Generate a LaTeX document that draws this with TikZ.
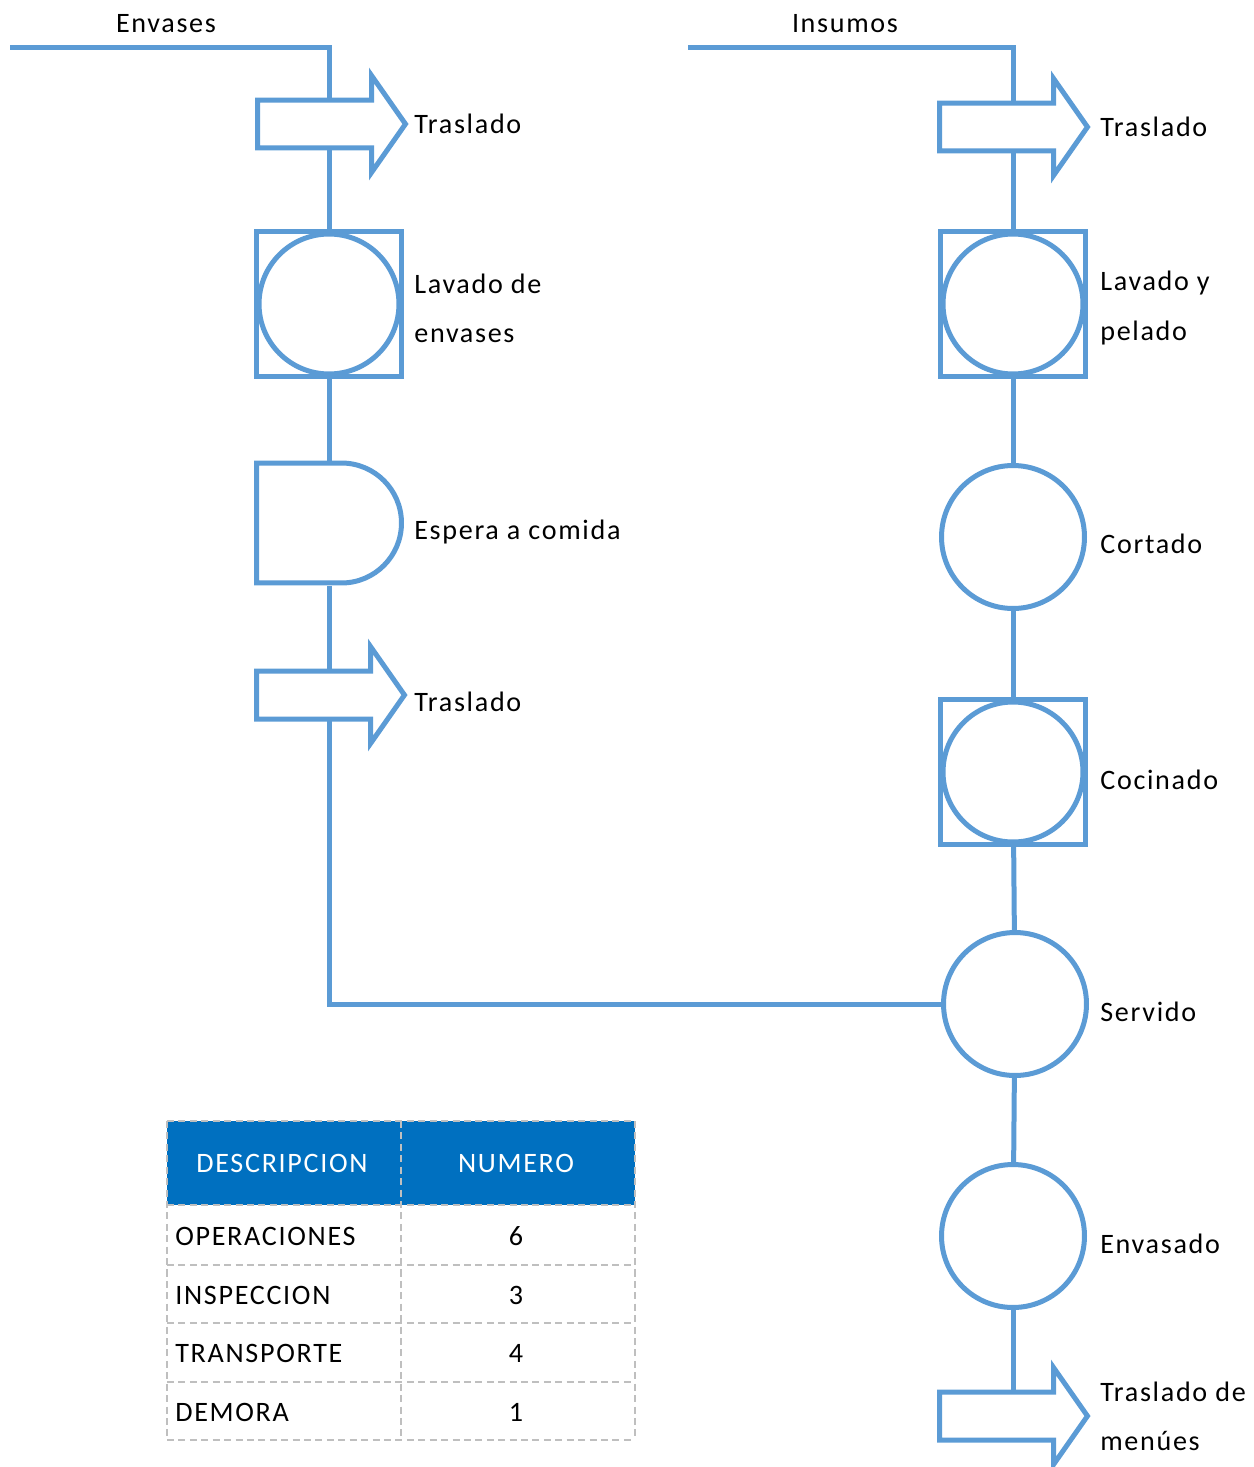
\documentclass[tikz,border=0pt]{standalone}
\usepackage{fontspec}
\setmainfont{Carlito}[LetterSpace=6]
\usetikzlibrary{shapes.arrows,shapes.misc,backgrounds,positioning}
\definecolor{flujoazul}{RGB}{91,155,213}
\definecolor{tablaazul}{RGB}{0,112,192}
\definecolor{tablagris}{RGB}{191,191,191}

\begin{document}
\begin{tikzpicture}[x=0.02cm,y=-0.02cm,line join=miter,
                    font=\fontsize{16}{28}\selectfont,
  flujo/.style={draw=flujoazul,line width=0.1cm},
  traslado/.style={flujo,fill=white,single arrow,anchor=tail,
     inner xsep=0pt,inner ysep=0.43cm,minimum height=2.96cm,
     single arrow head extend=0.49cm,single arrow tip angle=110},
  operacion/.style={flujo,fill=white,circle,inner sep=0pt,
     minimum size=2.86cm},
  combinada/.style={flujo,fill=white,rectangle,inner sep=0pt,
     minimum size=2.9cm},
  espera/.style={flujo,fill=white,rounded rectangle,
     rounded rectangle left arc=none,inner sep=0pt,
     minimum width=2.9cm,minimum height=2.4cm},
  etiqueta/.style={anchor=west,align=left,inner sep=0pt},
  rejilla/.style={tablagris,line width=0.6pt,dash pattern=on 4pt off 2.5pt}]
  \useasboundingbox (0,0) rectangle (1254,1467);
  % Columna de envases.
  \node (tEnv) at (166,24) {Envases};
  \coordinate (inEnv) at (10,47);
  \node[traslado] (tr1) at (255,124) {};
  \node[combinada] (lav1) at (329,304) {};
  \node[operacion,minimum size=2.8cm] (lav1c) at (lav1) {};
  \node[espera] (esp1) at (329,523) {};
  \node[traslado] (tr2) at (254,695) {};
  \node[etiqueta] (lTr1) at (414,124) {Traslado};
  \node[etiqueta] (lLav1) at (414,308) {Lavado de\\envases};
  \node[etiqueta] (lEsp1) at (414,532) {Espera a comida};
  \node[etiqueta] (lTr2) at (414,702) {Traslado};
  % Columna de insumos.
  \node (tIns) at (845,24) {Insumos};
  \coordinate (inIns) at (688,47);
  \node[traslado] (tr3) at (937,127) {};
  \node[combinada] (lav2) at (1013,304) {};
  \node[operacion,minimum size=2.8cm] (lav2c) at (lav2) {};
  \node[operacion] (cort) at (1013,537) {};
  \node[combinada] (coc) at (1013,772) {};
  \node[operacion,minimum size=2.8cm] (cocc) at (coc) {};
  \node[operacion] (serv) at (1015,1004) {};
  \node[operacion] (envs) at (1013,1236) {};
  \node[traslado] (tr4) at (937,1416) {};
  \node[etiqueta] (lTr3) at (1100,127) {Traslado};
  \node[etiqueta] (lLav2) at (1100,308) {Lavado y\\pelado};
  \node[etiqueta] (lCort) at (1100,544) {Cortado};
  \node[etiqueta] (lCoc) at (1100,780) {Cocinado};
  \node[etiqueta] (lServ) at (1100,1012) {Servido};
  \node[etiqueta] (lEnvs) at (1100,1244) {Envasado};
  \node[etiqueta] (lTr4) at (1100,1416) {Traslado de\\menúes};

  \begin{scope}[on background layer]
    \draw[flujo] (inEnv) -| (lav1 |- tr1);
    \draw[flujo] (lav1 |- tr1) -- (lav1);
    \draw[flujo] (lav1) -- (esp1);
    \draw[flujo] (esp1) -- (lav1 |- tr2);
    \draw[flujo] (lav1 |- tr2) |- (serv);
    \draw[flujo] (inIns) -| (lav2 |- tr3);
    \draw[flujo] (lav2 |- tr3) -- (lav2);
    \draw[flujo] (lav2) -- (cort);
    \draw[flujo] (cort) -- (coc);
    \draw[flujo] (coc) -- (serv);
    \draw[flujo] (serv) -- (envs);
    \draw[flujo] (envs) -- (lav2 |- tr4);
  \end{scope}

  % Resumen.
  \fill[tablaazul] (167,1121) rectangle (635,1205);
  \foreach \y in {1121,1205,1265,1323,1382,1440}
    \draw[rejilla] (167,\y) -- (635,\y);
  \foreach \x in {167,401,635}
    \draw[rejilla] (\x,1121) -- (\x,1440);
  \node[white] (hDes) at (282,1163) {DESCRIPCION};
  \node[white] (hNum) at (516,1163) {NUMERO};
  \node[etiqueta] (dOp) at (175,1236) {OPERACIONES};
  \node[etiqueta] (dIn) at (175,1295) {INSPECCION};
  \node[etiqueta] (dTr) at (175,1353) {TRANSPORTE};
  \node[etiqueta] (dDe) at (175,1412) {DEMORA};
  \node (nOp) at (516,1236) {6};
  \node (nIn) at (516,1295) {3};
  \node (nTr) at (516,1353) {4};
  \node (nDe) at (516,1412) {1};
\end{tikzpicture}
\end{document}
